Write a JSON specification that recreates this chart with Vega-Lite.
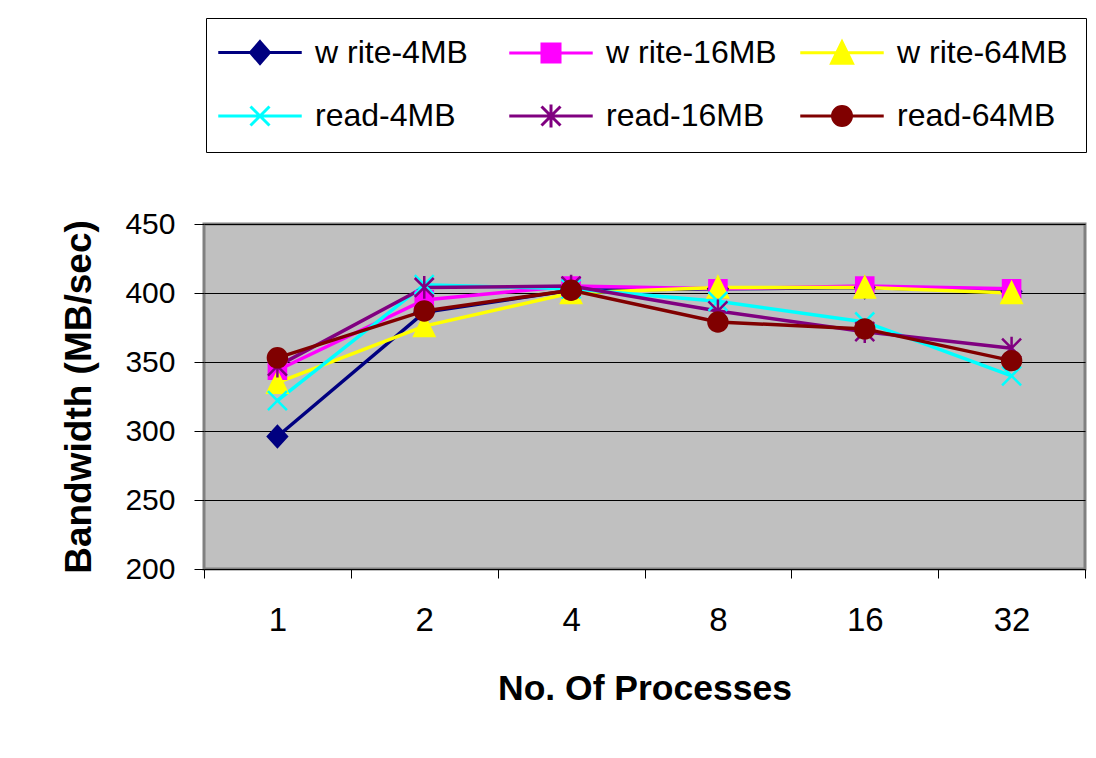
{
  "$schema": "https://vega.github.io/schema/vega-lite/v6.json",
  "width": 881,
  "height": 345,
  "autosize": {"type": "none"},
  "padding": {"left": 204, "top": 224, "right": 11, "bottom": 189},
  "background": "white",
  "config": {
    "font": "Liberation Sans",
    "view": {"stroke": "#808080", "strokeWidth": 3, "fill": "#C0C0C0"},
    "legend": {
      "title": null, "orient": "none", "legendX": 2, "legendY": -206,
      "direction": "horizontal",
      "columns": 3, "gridAlign": "all", "columnPadding": 17, "rowPadding": 28,
      "padding": 18, "strokeColor": "black", "fillColor": "white",
      "labelFontSize": 32, "labelColor": "black", "labelLimit": 400, "labelOffset": 39,
      "symbolOffset": 20, "symbolSize": 360, "symbolStrokeWidth": 3
    }
  },
  "data": {
    "values": [
      {"series": "w rite-4MB", "proc": "1", "bw": 296},
      {"series": "w rite-4MB", "proc": "2", "bw": 386},
      {"series": "w rite-4MB", "proc": "4", "bw": 402},
      {"series": "w rite-4MB", "proc": "8", "bw": 403},
      {"series": "w rite-4MB", "proc": "16", "bw": 404},
      {"series": "w rite-4MB", "proc": "32", "bw": 401},
      {"series": "w rite-16MB", "proc": "1", "bw": 344},
      {"series": "w rite-16MB", "proc": "2", "bw": 395},
      {"series": "w rite-16MB", "proc": "4", "bw": 405},
      {"series": "w rite-16MB", "proc": "8", "bw": 403},
      {"series": "w rite-16MB", "proc": "16", "bw": 405},
      {"series": "w rite-16MB", "proc": "32", "bw": 403},
      {"series": "w rite-64MB", "proc": "1", "bw": 335},
      {"series": "w rite-64MB", "proc": "2", "bw": 376},
      {"series": "w rite-64MB", "proc": "4", "bw": 400},
      {"series": "w rite-64MB", "proc": "8", "bw": 404},
      {"series": "w rite-64MB", "proc": "16", "bw": 404},
      {"series": "w rite-64MB", "proc": "32", "bw": 400},
      {"series": "read-4MB", "proc": "1", "bw": 322},
      {"series": "read-4MB", "proc": "2", "bw": 406},
      {"series": "read-4MB", "proc": "4", "bw": 403},
      {"series": "read-4MB", "proc": "8", "bw": 394},
      {"series": "read-4MB", "proc": "16", "bw": 379},
      {"series": "read-4MB", "proc": "32", "bw": 340},
      {"series": "read-16MB", "proc": "1", "bw": 347},
      {"series": "read-16MB", "proc": "2", "bw": 404},
      {"series": "read-16MB", "proc": "4", "bw": 405},
      {"series": "read-16MB", "proc": "8", "bw": 387},
      {"series": "read-16MB", "proc": "16", "bw": 372},
      {"series": "read-16MB", "proc": "32", "bw": 360},
      {"series": "read-64MB", "proc": "1", "bw": 353},
      {"series": "read-64MB", "proc": "2", "bw": 387},
      {"series": "read-64MB", "proc": "4", "bw": 402},
      {"series": "read-64MB", "proc": "8", "bw": 379},
      {"series": "read-64MB", "proc": "16", "bw": 374},
      {"series": "read-64MB", "proc": "32", "bw": 351}
    ]
  },
  "encoding": {
    "x": {
      "field": "proc", "type": "ordinal", "sort": ["1", "2", "4", "8", "16", "32"],
      "bandPosition": 0.5,
      "scale": {"type": "band", "paddingInner": 0, "paddingOuter": 0},
      "axis": {
        "title": "No. Of Processes", "labelAngle": 0, "tickBand": "extent",
        "domain": false, "grid": false, "ticks": true, "tickColor": "black", "tickSize": 9, "tickWidth": 1,
        "labelFontSize": 33, "labelColor": "black", "labelPadding": 26,
        "titleFontSize": 35.5, "titleFontWeight": "bold", "titleColor": "black", "titlePadding": 34
      }
    },
    "y": {
      "field": "bw", "type": "quantitative",
      "scale": {"domain": [200, 450], "nice": false, "zero": false},
      "axis": {
        "title": "Bandwidth (MB/sec)", "values": [200, 250, 300, 350, 400, 450],
        "domain": false, "grid": true, "gridColor": "black", "gridWidth": 1, "gridOpacity": 1,
        "tickColor": "black", "tickSize": 10, "tickWidth": 1,
        "labelFontSize": 30, "labelColor": "black", "labelPadding": 19,
        "titleFontSize": 37, "titleFontWeight": "bold", "titleColor": "black", "titlePadding": 26
      }
    }
  },
  "layer": [
    {
      "mark": {"type": "line", "strokeWidth": 3.5},
      "encoding": {
        "color": {
          "field": "series", "type": "nominal",
          "scale": {
            "domain": ["w rite-4MB", "w rite-16MB", "w rite-64MB", "read-4MB", "read-16MB", "read-64MB"],
            "range": ["#000080", "#FF00FF", "#FFFF00", "#00FFFF", "#800080", "#800000"]
          },
          "legend": {
            "encode": {
              "symbols": {
                "update": {
                  "shape": {"signal": "{'w rite-4MB':'M0,-1.15L1,0L0,1.15L-1,0Z M-4.4,0L4.4,0','w rite-16MB':'M-0.95,-0.95L0.95,-0.95L0.95,0.95L-0.95,0.95Z M-4.4,0L4.4,0','w rite-64MB':'M0,-1.15L1.1,1.1L-1.1,1.1Z M-4.4,0L4.4,0','read-4MB':'M-1,-1L1,1M1,-1L-1,1 M-4.4,0L4.4,0','read-16MB':'M-1,-1L1,1M1,-1L-1,1M0,-1.2L0,1.2 M-4.4,0L4.4,0','read-64MB':'M1,0A1,1,0,1,1,-1,0A1,1,0,1,1,1,0Z M-4.4,0L4.4,0'}[datum.value]"},
                  "fill": {"signal": "scale('color', datum.value)"},
                  "stroke": {"signal": "scale('color', datum.value)"},
                  "strokeWidth": {"value": 3},
                  "opacity": {"value": 1}
                }
              }
            }
          }
        }
      }
    },
    {
      "mark": {"type": "point", "filled": true, "size": 360, "strokeWidth": 2.5, "opacity": 1},
      "encoding": {
        "fill": {
          "field": "series", "type": "nominal",
          "scale": {
            "domain": ["read-64MB", "read-16MB", "read-4MB", "w rite-64MB", "w rite-16MB", "w rite-4MB"],
            "range": ["#800000", "#800080", "#00FFFF", "#FFFF00", "#FF00FF", "#000080"]
          },
          "legend": null
        },
        "shape": {
          "field": "series", "type": "nominal",
          "scale": {
            "domain": ["read-64MB", "read-16MB", "read-4MB", "w rite-64MB", "w rite-16MB", "w rite-4MB"],
            "range": [
              "M1,0A1,1,0,1,1,-1,0A1,1,0,1,1,1,0Z",
              "M-1,-1L1,1M1,-1L-1,1M0,-1.2L0,1.2",
              "M-1,-1L1,1M1,-1L-1,1",
              "M0,-1.1L1.05,1.05L-1.05,1.05Z",
              "M-0.9,-0.9L0.9,-0.9L0.9,0.9L-0.9,0.9Z",
              "M0,-1.1L1,0L0,1.1L-1,0Z"
            ]
          },
          "legend": null
        },
        "stroke": {
          "field": "series", "type": "nominal",
          "scale": {
            "domain": ["read-64MB", "read-16MB", "read-4MB", "w rite-64MB", "w rite-16MB", "w rite-4MB"],
            "range": ["#800000", "#800080", "#00FFFF", "#FFFF00", "#FF00FF", "#000080"]
          },
          "legend": null
        }
      }
    }
  ]
}
